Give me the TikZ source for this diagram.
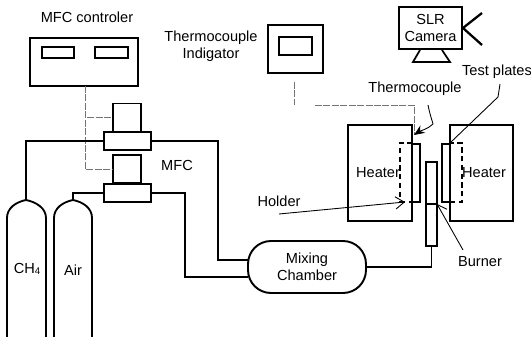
\documentclass[tikz,border=0pt]{standalone}
\usepackage{fontspec}
\setmainfont{Liberation Sans}
\usetikzlibrary{arrows.meta}
\tikzset{
  box/.style 2 args={draw,line width=1.1pt,inner sep=0pt,minimum width=#1*0.02cm,minimum height=#2*0.02cm},
  pipe/.style={line width=1.05pt},
  signal/.style={line width=.4pt,black!55,dash pattern=on 4pt off .8pt},
  leader/.style={line width=.5pt},
  lbl/.style={font=\fontsize{8.3}{9.6}\selectfont,align=center,inner sep=0pt}
}
\begin{document}
\begin{tikzpicture}[x=0.02cm,y=-0.02cm]
\useasboundingbox (0,0) rectangle (531,337);
% controller and MFCs
\node[box={108}{48}] (ctrl) at (84,62) {};
\node[box={32}{11}] (ctrlA) at (58,52.5) {};
\node[box={33}{11}] (ctrlB) at (111.5,52.5) {};
\node[box={28}{28}] (mfcA) at (127,117.5) {};
\node[box={47}{18},fill=white] (blockA) at (127.5,141) {};
\node[box={28}{28}] (mfcB) at (127,169) {};
\node[box={47}{18},fill=white] (blockB) at (127.5,193) {};
\node[lbl] (ctrltxt) at (87,17) {MFC controler};
\node[lbl] (mfctxt) at (177,165) {MFC};
% signal lines
\coordinate (ctrlout) at (85,86);
\draw[signal] (ctrlout) |- (mfcA.west);
\draw[signal] (ctrlout) |- (mfcB.west);
% cylinders
\draw[pipe] (7,337) -- (7,218) .. controls (7,208) and (16,202) .. (26,200) coordinate (tankA) .. controls (36,202) and (46,208) .. (46,218) -- (46,337);
\draw[pipe] (54,337) -- (54,218) .. controls (54,208) and (63,202) .. (73,200) coordinate (tankB) .. controls (83,202) and (92,208) .. (92,218) -- (92,337);
\node[lbl] (chtxt) at (27,269) {CH\raisebox{-.2ex}{\fontsize{5.5}{6}\selectfont 4}};
\node[lbl] (airtxt) at (73,270) {Air};
% mixing chamber
\node[box={118}{52},lbl,rounded corners=.46cm] (mix) at (307,267) {Mixing\\Chamber};
\coordinate (mixA) at (248,260);
\coordinate (mixB) at (248,277);
\draw[pipe] (blockA.west) -| (tankA);
\draw[pipe] (blockB.west) -| (tankB);
\draw[pipe] (blockA.east) -- (218,141) |- (mixA);
\draw[pipe] (blockB.east) -- (185,193) |- (mixB);
% indicator and camera
\node[box={55}{48}] (ind) at (295.5,49) {};
\node[box={33}{18}] (indA) at (295.5,46) {};
\node[lbl] (indtxt) at (211,46.5) {Thermocouple\\Indigator};
\node[box={63}{42},lbl] (cam) at (430.5,28) {SLR\\Camera};
\draw[line width=1pt] (420,50) -- (413,62) -- (450,62) -- (442,50);
\coordinate (lensA) at (482,13);
\coordinate (lensB) at (482,45);
\draw[line width=1.3pt] (lensA) -- (cam.east) -- (lensB);
% heaters
\node[box={64}{96}] (heatL) at (380,173) {};
\node[box={63}{96}] (heatR) at (481.5,173) {};
\node[box={8}{58}] (plateL) at (416,173) {};
\node[box={8}{58}] (plateR) at (446,173) {};
\node[box={12}{59},densely dashed,line width=.8pt] (dashL) at (406,172.5) {};
\node[box={12}{59},densely dashed,line width=.8pt] (dashR) at (456,172.5) {};
\node[lbl] (heatLtxt) at (378,173) {Heater};
\node[lbl] (heatRtxt) at (484,173) {Heater};
\node[box={11}{84},fill=white] (burner) at (431.5,204) {};
\draw[line width=.7pt] (burner.west) -- (burner.east);
\draw[pipe] (mix.east) -| (burner.south);
\coordinate (indout) at (294,82);
\coordinate (tcA) at (315,105);
\coordinate (tcB) at (414,135);
\draw[signal] (indout) -- (294,105);
\draw[signal] (tcA) -| (tcB);
% labels and leaders
\node[lbl] (tctxt) at (415,89) {Thermocouple};
\node[lbl] (testtxt) at (497,72) {Test plates};
\node[lbl] (holdtxt) at (279,201) {Holder};
\node[lbl] (burntxt) at (480,262) {Burner};
\coordinate (tcC) at (428,105);
\draw[leader,-{Stealth[length=6pt,width=5pt]}] (tcC) .. controls (430,115) and (432,120) .. (433,124) .. controls (428,129) and (420,131) .. (tcB);
\coordinate (testA) at (500,84);
\coordinate (testB) at (450,143);
\draw[leader] (testA) -- (498,97) -- (testB);
\coordinate (holdA) at (279,214);
\coordinate (holdB) at (405,202);
\draw[leader,-{Straight Barb[length=5pt,width=7pt]}] (holdA) -- (holdB);
\coordinate (burnA) at (463,250);
\coordinate (burnB) at (437,204);
\draw[leader,-{Straight Barb[length=5pt,width=7pt]}] (burnA) -- (burnB);
\end{tikzpicture}
\end{document}
